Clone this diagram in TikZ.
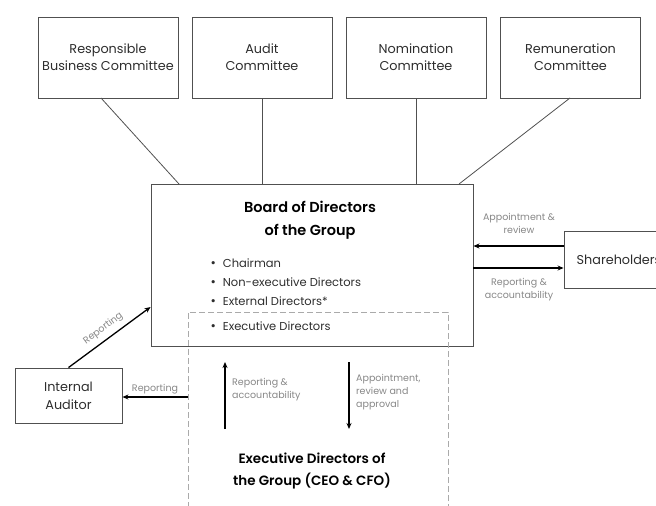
\documentclass[tikz,border=0pt]{standalone}
\usepackage{fontspec}
\setmainfont{Poppins}[BoldFont={Poppins SemiBold}]
\usetikzlibrary{arrows.meta, positioning}
\definecolor{boxline}{RGB}{80,80,80}
\definecolor{dashc}{RGB}{170,170,170}
\definecolor{labelc}{RGB}{135,135,135}
\definecolor{textc}{RGB}{45,45,45}

\newcommand{\bul}{{\fontsize{13}{13}\selectfont\textbullet}\hspace{7pt}}

\begin{document}
\begin{tikzpicture}[x=1pt,y=-1pt,
	box/.style={draw=boxline,line width=0.9pt,align=center,text=textc,inner sep=0pt},
	cbox/.style={box,minimum width=140pt,minimum height=81pt,font=\fontsize{12.8}{17}\selectfont},
	dashbox/.style={draw=dashc,line width=0.9pt,dash pattern=on 6pt off 3pt,minimum width=260pt,minimum height=208pt,inner sep=0pt},
	link/.style={boxline,line width=0.8pt},
	arr/.style={black,line width=1.3pt,-{Stealth[length=6pt,width=5pt]}},
	lbl/.style={text=labelc,font=\fontsize{9.5}{13}\selectfont,align=left,inner sep=2pt}]
	\useasboundingbox (0,0) rectangle (656,506);
	% committees
	\node[cbox] (rbc) at (108,57.5) {Responsible\\Business Committee};
	\node[cbox] (audit) at (262,57.5) {Audit\\Committee};
	\node[cbox] (nomination) at (416,57.5) {Nomination\\Committee};
	\node[cbox] (remuneration) at (570.5,57.5) {Remuneration\\Committee};
	% board
	\node[box,minimum width=322pt,minimum height=162pt] (board) at (312,265) {};
	\node[font=\fontsize{14.5}{23}\selectfont\bfseries,align=center] (boardtitle) at (310,220.5) {Board of Directors\\of the Group};
	\node[anchor=west,align=left,text=textc,font=\fontsize{11.5}{19}\selectfont] (members) at (207,282) {\bul Chairman\\ \bul Non-executive Directors\\ \bul External Directors*};
	% executive directors
	\node[dashbox] (execbox) at (318,416) {};
	\node[anchor=west,text=textc,font=\fontsize{11.5}{19}\selectfont] (execitem) at (207,326) {\bul Executive Directors};
	\node[font=\fontsize{13.5}{22}\selectfont\bfseries,align=center] (exectitle) at (312,471) {Executive Directors of\\the Group (CEO \& CFO)};
	% side boxes
	\node[box,minimum width=110pt,minimum height=57pt,font=\fontsize{12.8}{17}\selectfont] (holders) at (619,259.5) {Shareholders};
	\node[box,minimum width=107pt,minimum height=55pt,font=\fontsize{12.8}{18}\selectfont] (auditor) at (68.5,395.5) {Internal\\Auditor};
	% committee links
	\draw[link] (101,98) -- (179,184);
	\draw[link] (audit) -- (audit |- board.north);
	\draw[link] (nomination) -- (nomination |- board.north);
	\draw[link] (570,98) -- (459,184);
	% shareholders
	\draw[arr] (holders.west |- 0,246) -- (board.east |- 0,246);
	\draw[arr] (board.east |- 0,268) -- (holders.west |- 0,268);
	\node[lbl,align=center] (apptlbl) at (519,223) {Appointment \&\\review};
	\node[lbl,align=center] (replbl) at (519,290) {Reporting \&\\accountability};
	% internal auditor
	\draw[arr] (auditor.north) -- node[lbl,sloped,above=3pt] {Reporting} (board.west |- 0,307);
	\draw[arr] (execbox.west |- 0,397) -- node[lbl,above] {Reporting} (auditor.east |- 0,397);
	% board and executives
	\coordinate (upbot) at (225,429);
	\coordinate (uptop) at (225,362);
	\coordinate (dntop) at (349,362);
	\coordinate (dnbot) at (349,429);
	\draw[arr] (upbot) -- (uptop);
	\draw[arr] (dntop) -- (dnbot);
	\node[lbl,anchor=west] (upl) at (230,390) {Reporting \&\\accountability};
	\node[lbl,anchor=west] (dnl) at (354,392) {Appointment,\\review and\\approval};
\end{tikzpicture}
\end{document}
